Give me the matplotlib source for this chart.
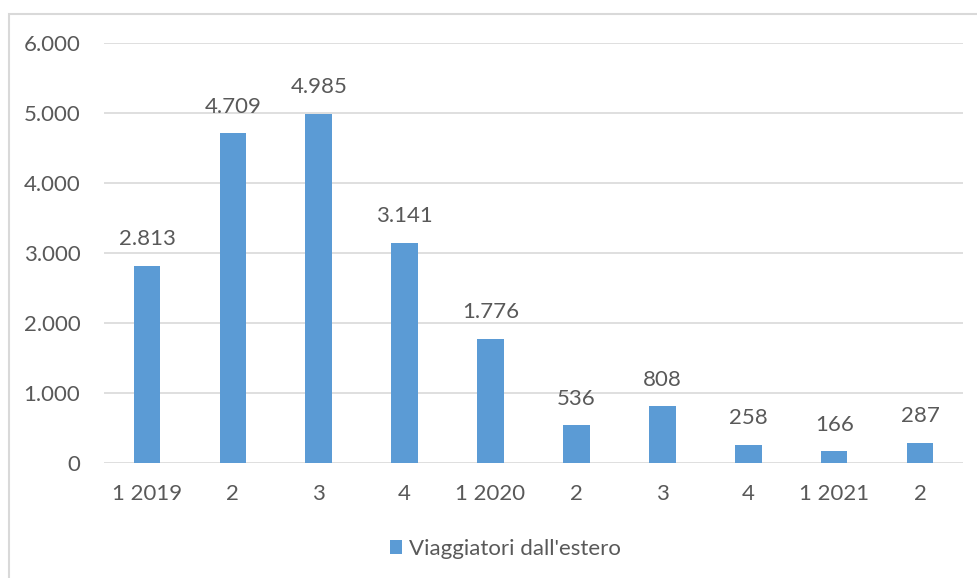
import matplotlib.pyplot as plt
from matplotlib.patches import Rectangle
import numpy as np

categories = ["1 2019", "2", "3", "4", "1 2020", "2", "3", "4", "1 2021", "2"]
viaggiatori = [2813, 4709, 4985, 3141, 1776, 536, 808, 258, 166, 287]
y_ticks = [0, 1000, 2000, 3000, 4000, 5000, 6000]
series_name = "Viaggiatori dall'estero"

bar_color = "#5B9BD5"
text_color = "#595959"
grid_color = "#D9D9D9"

plt.rcParams['font.family'] = ['Lato', 'DejaVu Sans']


def fmt_it(v):
    # punto come separatore delle migliaia
    return f"{v:,}".replace(",", ".")


fig = plt.figure(figsize=(9.78, 5.78), dpi=100)
ax = fig.add_axes([104 / 978, 1 - 463 / 578, (963 - 104) / 978, (463 - 43) / 578])

x = np.arange(len(categories))
ax.bar(x, viaggiatori, width=0.31, color=bar_color, zorder=3, label=series_name)

for xi, v in zip(x, viaggiatori):
    ax.annotate(fmt_it(v), (xi, v), xytext=(0, 12), textcoords="offset points",
                ha="center", va="bottom", fontsize=16, color=text_color)

ax.set_xlim(-0.5, len(categories) - 0.5)
ax.set_ylim(0, 6000)
ax.set_yticks(y_ticks)
ax.set_yticklabels([fmt_it(t) for t in y_ticks])
ax.set_xticks(x)
ax.set_xticklabels(categories)
ax.tick_params(axis="both", length=0, labelsize=16, colors=text_color)
ax.tick_params(axis="y", pad=17)
ax.tick_params(axis="x", pad=15)
ax.grid(axis="y", color=grid_color, linewidth=1.2, zorder=0)
for s in ax.spines.values():
    s.set_visible(False)

# bordo del grafico
fig.patches.append(Rectangle((9 / 978, -0.01), 1.0, 1 - 14 / 578 + 0.01, transform=fig.transFigure,
                             fill=False, edgecolor=grid_color, linewidth=1.5))

leg = fig.legend(loc="center", bbox_to_anchor=(505 / 978, 1 - 549 / 578), frameon=False,
                 fontsize=16, handlelength=0.55, handleheight=0.55, handletextpad=0.3)
for t in leg.get_texts():
    t.set_color(text_color)

fig.savefig("out.png", dpi=100)
